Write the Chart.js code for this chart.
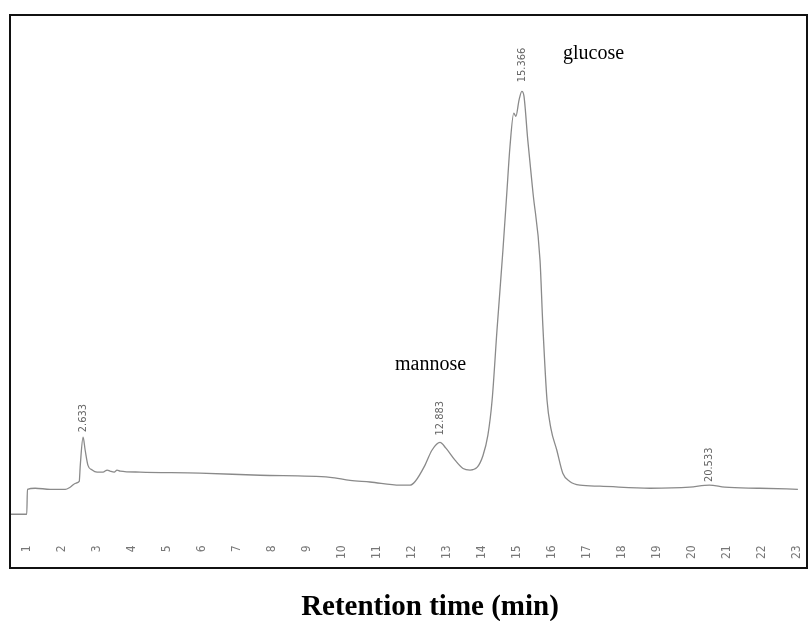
<!DOCTYPE html>
<html>
<head>
<meta charset="utf-8">
<script src="https://cdn.jsdelivr.net/npm/chart.js@4/dist/chart.umd.min.js"></script>
<style>
  html, body { margin: 0; padding: 0; background: #fff; }
  canvas { display: block; }
</style>
</head>
<body>
<canvas id="c" width="809" height="621"></canvas>
<script>
// Retention time (min)
const retentionTimes = [0.54, 0.99, 1.01, 1.23, 1.66, 2.09, 2.23, 2.40, 2.49, 2.52, 2.60, 2.66, 2.74, 2.86, 3.00, 3.17, 3.29, 3.37, 3.49, 3.57, 3.66, 4.23, 5.94, 7.66, 9.66, 10.23, 10.80, 11.66, 11.94, 12.09, 12.37, 12.57, 12.80, 12.97, 13.23, 13.46, 13.66, 13.86, 14.03, 14.17, 14.29, 14.43, 14.60, 14.71, 14.80, 14.91, 14.97, 15.06, 15.14, 15.20, 15.31, 15.46, 15.66, 15.74, 15.86, 15.97, 16.14, 16.31, 16.51, 16.80, 17.37, 18.80, 19.94, 20.50, 20.94, 21.94, 23.03];
// Detector signal (relative units)
const signal = [5.0, 5.0, 9.8, 10.0, 9.8, 9.8, 10.2, 11.0, 11.3, 14.4, 19.8, 17.3, 14.4, 13.5, 13.1, 13.1, 13.5, 13.3, 13.1, 13.5, 13.3, 13.1, 12.9, 12.5, 12.1, 11.5, 11.2, 10.6, 10.6, 11.3, 14.4, 17.3, 18.8, 17.7, 15.4, 13.8, 13.5, 14.0, 16.3, 20.2, 26.9, 40.4, 55.8, 66.7, 75.6, 82.1, 81.5, 84.6, 86.3, 85.4, 76.9, 66.7, 53.8, 41.3, 26.9, 21.5, 17.3, 12.9, 11.3, 10.6, 10.4, 10.0, 10.2, 10.6, 10.2, 10.0, 9.8];
// X tick labels
const tickValues = [1,2,3,4,5,6,7,8,9,10,11,12,13,14,15,16,17,18,19,20,21,22,23];
// Peak annotations
const peakLabels = ['2.633', '12.883', '15.366', '20.533'];
const peakTimes  = [2.60, 12.80, 15.14, 20.50];
const peakHeights = [19.8, 18.8, 86.3, 10.6];
// Compound names
const compoundNames = ['glucose', 'mannose'];
const axisTitle = 'Retention time (min)';

const decorPlugin = {
  id: 'decor',
  afterDraw(chart) {
    const ctx = chart.ctx;
    const xs = chart.scales.x, ys = chart.scales.y;
    ctx.save();
    // frame
    ctx.strokeStyle = '#111';
    ctx.lineWidth = 2;
    ctx.strokeRect(10, 15, 797, 553);
    // peak labels
    ctx.fillStyle = '#666';
    ctx.font = '11px "Liberation Sans Narrow", "DejaVu Sans Condensed", "Liberation Sans", sans-serif';
    const gaps = [5, 7, 9, 3];
    peakLabels.forEach((t, i) => {
      const px = xs.getPixelForValue(peakTimes[i]);
      const py = ys.getPixelForValue(peakHeights[i]) - gaps[i];
      ctx.save();
      ctx.translate(px, py);
      ctx.rotate(-Math.PI / 2);
      ctx.textAlign = 'left';
      ctx.textBaseline = 'middle';
      ctx.fillText(t, 0, 0);
      ctx.restore();
    });
    // compound names
    ctx.fillStyle = '#000';
    ctx.font = '20px "Liberation Serif", "Times New Roman", serif';
    ctx.textAlign = 'left';
    ctx.textBaseline = 'alphabetic';
    ctx.fillText(compoundNames[0], 563, 59);
    ctx.fillText(compoundNames[1], 395, 370);
    // axis title
    ctx.font = 'bold 29px "Liberation Serif", "Times New Roman", serif';
    ctx.textAlign = 'center';
    ctx.fillText(axisTitle, 430, 615);
    ctx.restore();
  }
};

new Chart(document.getElementById('c'), {
  type: 'line',
  data: {
    datasets: [{
      data: retentionTimes.map((t, i) => ({ x: t, y: signal[i] })),
      borderColor: '#8a8a8a',
      borderWidth: 1.3,
      pointRadius: 0,
      cubicInterpolationMode: 'monotone',
      fill: false
    }]
  },
  options: {
    responsive: false,
    devicePixelRatio: 1,
    animation: false,
    layout: { padding: { left: 11, right: 9, top: 20, bottom: 57 } },
    plugins: { legend: { display: false }, tooltip: { enabled: false } },
    scales: {
      x: {
        type: 'linear',
        min: 0.54,
        max: 23.09,
        afterBuildTicks: s => { s.ticks = tickValues.map(v => ({ value: v })); },
        afterFit: s => { s.paddingLeft = 0; s.paddingRight = 0; },
        grid: { display: false, drawTicks: false },
        border: { display: false },
        ticks: {
          minRotation: 90,
          maxRotation: 90,
          padding: 5,
          color: '#777',
          font: { family: '"Liberation Sans Narrow", "DejaVu Sans Condensed", "Liberation Sans", sans-serif', size: 12 }
        }
      },
      y: {
        display: false,
        min: 0,
        max: 100
      }
    }
  },
  plugins: [decorPlugin]
});
</script>
</body>
</html>
